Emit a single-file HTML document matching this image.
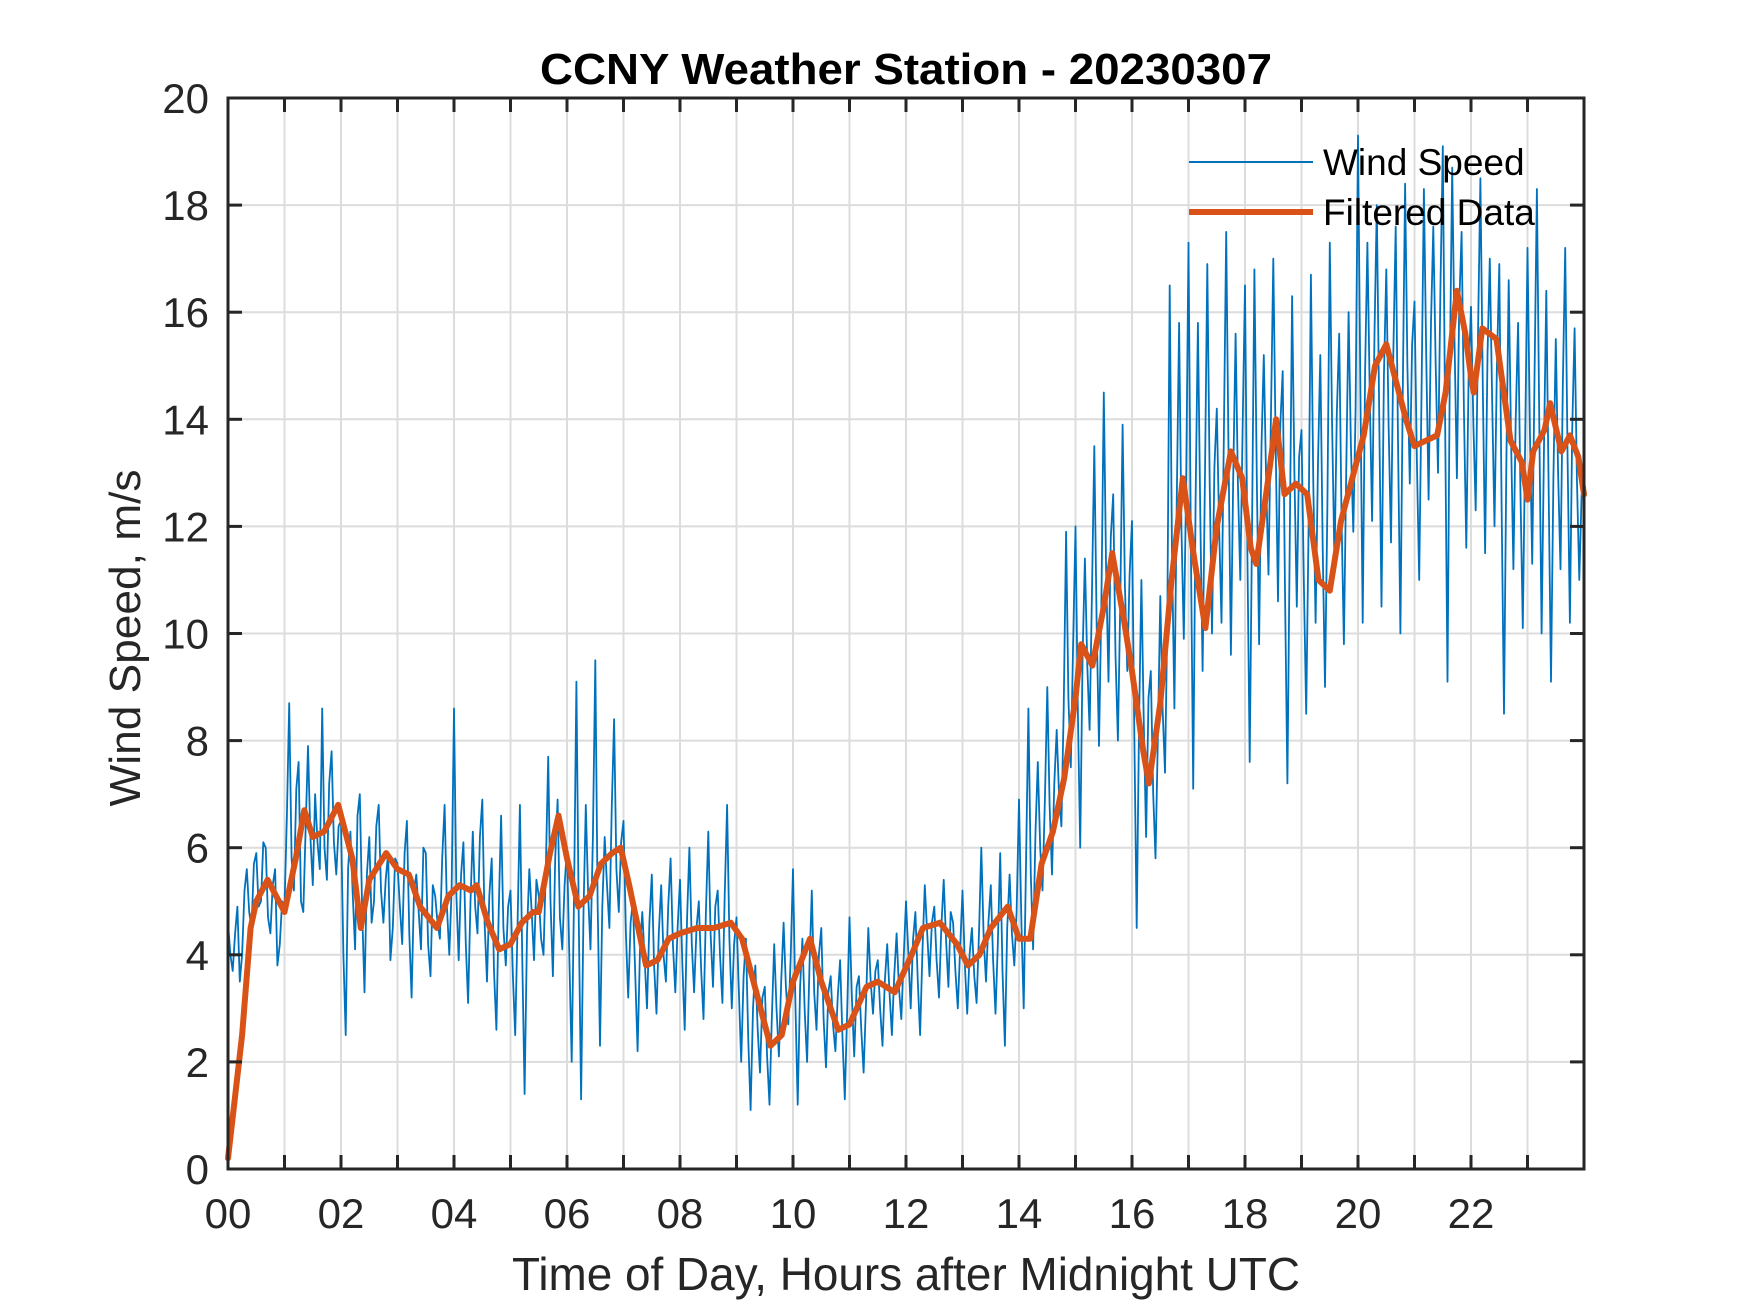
<!DOCTYPE html>
<html><head><meta charset="utf-8"><style>
html,body{margin:0;padding:0;background:#fff;}
svg{display:block;font-family:"Liberation Sans",Arial,sans-serif;}
</style></head><body>
<svg id="chart" width="1750" height="1313" viewBox="0 0 1750 1313" xmlns="http://www.w3.org/2000/svg">
<rect width="1750" height="1313" fill="#fff"/>
<g id="grid"></g>
<g id="series"></g>
<g id="axes"></g>
<text x="906" y="84" text-anchor="middle" font-size="44" font-weight="bold" textLength="732" lengthAdjust="spacingAndGlyphs">CCNY Weather Station - 20230307</text>
<text x="906" y="1290" text-anchor="middle" font-size="46" fill="#262626" textLength="788" lengthAdjust="spacingAndGlyphs">Time of Day, Hours after Midnight UTC</text>
<text transform="translate(140,638) rotate(-90)" text-anchor="middle" font-size="44" fill="#262626" textLength="337" lengthAdjust="spacingAndGlyphs">Wind Speed, m/s</text>
<g>
<line x1="1189" y1="162" x2="1313" y2="162" stroke="#0072BD" stroke-width="2"/>
<text x="1323" y="175" font-size="37" fill="#000">Wind Speed</text>
<line x1="1189" y1="212" x2="1313" y2="212" stroke="#D95319" stroke-width="6"/>
<text x="1323" y="225" font-size="37" fill="#000">Filtered Data</text>
</g>
</svg>
<script>
const xTickLabels = ["00","02","04","06","08","10","12","14","16","18","20","22"];
const yTicks = [0,2,4,6,8,10,12,14,16,18,20];
const windSpeed = [
4.6,4.0,3.7,4.4,4.9,3.5,4.0,5.2,5.6,4.8,4.5,5.7,5.9,4.9,5.0,6.1,6.0,4.7,4.4,5.3,5.6,3.8,4.2,5.0,
4.9,6.6,8.7,5.8,5.2,7.1,7.6,5.0,4.8,6.4,7.9,6.2,5.3,7.0,6.1,5.6,8.6,6.0,5.4,7.2,7.8,6.1,5.5,6.4,
6.5,4.0,2.5,5.6,6.3,5.1,4.1,6.6,7.0,4.8,3.3,5.5,6.2,4.6,5.0,6.4,6.8,5.2,4.6,5.4,5.9,3.9,4.5,5.8,
5.7,4.9,4.2,5.9,6.5,4.4,3.2,5.2,5.5,4.8,4.1,6.0,5.9,4.2,3.6,5.3,5.1,4.6,4.3,5.8,6.8,4.9,4.0,5.2,
8.6,5.1,3.9,5.5,6.1,4.2,3.1,5.0,6.3,4.9,4.4,6.2,6.9,4.6,3.5,5.1,5.8,3.7,2.6,4.8,6.6,4.5,3.8,4.9,
5.2,3.6,2.5,4.6,6.8,3.9,1.4,4.4,5.6,4.8,3.9,5.4,5.1,4.3,4.0,5.6,7.7,5.0,3.6,5.8,6.9,4.7,4.1,5.3,
6.0,3.9,2.0,5.2,9.1,4.6,1.3,4.8,6.8,5.1,4.1,6.2,9.5,5.0,2.3,4.9,6.2,5.3,4.5,6.7,8.4,5.6,4.8,6.1,
6.5,4.4,3.2,4.6,5.0,3.6,2.2,4.1,4.8,3.9,3.0,4.6,5.5,3.8,2.9,4.4,5.3,4.0,3.5,4.9,5.8,4.2,3.3,4.5,
5.4,3.8,2.6,4.7,6.0,4.2,3.3,4.5,5.0,3.7,2.8,4.8,6.3,4.4,3.4,4.9,5.2,4.0,3.1,5.1,6.8,4.3,3.0,4.2,
4.7,3.3,2.0,3.6,4.3,2.4,1.1,3.0,3.8,2.6,1.8,3.2,3.4,2.1,1.2,2.8,4.2,3.0,2.1,3.5,4.6,3.4,2.7,3.9,
5.6,3.1,1.2,3.4,4.3,2.9,2.0,3.8,5.2,3.3,2.6,4.0,4.5,2.8,1.9,3.3,3.6,2.7,2.2,3.2,3.9,2.5,1.3,2.9,
4.7,3.2,2.1,3.4,3.6,2.6,1.8,3.1,4.5,3.5,2.9,3.7,3.9,3.0,2.3,3.5,4.2,3.3,2.5,3.6,4.4,3.4,2.8,3.9,
5.0,4.0,3.0,4.3,4.8,3.5,2.5,4.1,5.3,4.4,3.6,4.6,4.9,3.9,3.2,4.5,5.4,4.3,3.4,4.8,4.6,3.7,3.0,4.1,
5.2,3.8,2.9,4.0,4.5,3.6,3.1,4.4,6.0,4.3,3.5,4.6,5.3,3.9,2.9,4.2,5.9,3.7,2.3,4.5,5.5,4.4,3.8,4.8,
6.9,4.6,3.0,5.8,8.6,5.5,4.1,6.3,7.6,6.0,5.2,6.9,9.0,6.8,5.5,7.2,8.2,7.0,6.4,8.6,11.9,8.8,7.5,9.8,
12.0,8.5,6.0,9.6,11.4,9.4,8.2,10.8,13.5,10.1,7.9,10.6,14.5,11.2,9.1,11.8,12.6,9.6,8.0,10.5,13.9,10.9,9.3,11.1,
12.1,8.0,4.5,8.4,11.0,8.3,6.2,8.8,9.3,7.0,5.8,8.1,10.7,8.6,7.4,10.2,16.5,11.5,8.6,12.4,15.8,12.0,9.9,12.7,
17.3,11.6,7.1,12.5,15.8,12.2,9.3,13.0,16.9,12.8,10.0,13.1,14.2,12.0,10.2,13.6,17.5,13.4,9.6,12.9,15.6,12.8,11.0,13.8,
16.5,11.5,7.6,12.1,16.8,12.9,9.8,13.5,15.2,12.8,11.1,14.0,17.0,13.6,10.6,13.9,14.9,10.8,7.2,11.6,16.3,13.0,10.5,13.3,
13.8,10.9,8.5,12.0,16.7,12.8,10.2,13.2,15.2,11.6,9.0,12.4,17.3,13.9,11.3,14.1,15.6,12.2,9.8,13.0,16.0,13.5,11.9,14.2,
19.3,14.5,10.2,14.9,17.3,14.4,12.1,15.6,18.0,14.1,10.5,14.8,16.8,13.9,11.7,15.2,17.6,13.6,10.0,14.4,18.4,15.0,12.8,15.4,
16.2,13.2,11.0,14.6,18.3,15.1,12.5,15.8,17.6,15.0,13.0,16.4,19.1,14.0,9.1,14.9,18.7,15.5,12.9,16.1,17.5,14.2,11.6,14.8,
16.1,13.9,12.3,15.7,18.5,14.6,11.5,15.2,17.0,14.3,12.0,15.0,16.9,12.4,8.5,13.1,16.6,13.7,11.2,14.0,15.8,12.7,10.1,13.5,
17.2,13.8,11.3,14.9,18.3,13.9,10.0,13.5,16.4,12.6,9.1,12.9,15.5,13.0,11.2,14.6,17.2,13.4,10.2,13.8,15.7,12.9,11.0,12.6
];
const filteredTimes = [0,0.25,0.4,0.5,0.7,0.9,1.0,1.2,1.35,1.5,1.7,1.95,2.2,2.35,2.5,2.8,3.0,3.2,3.4,3.7,3.9,4.1,4.3,4.4,4.6,4.8,5.0,5.2,5.4,5.5,5.7,5.85,6.0,6.2,6.4,6.6,6.8,6.95,7.1,7.4,7.6,7.8,8.0,8.3,8.6,8.9,9.1,9.3,9.6,9.8,10.0,10.3,10.5,10.8,11.0,11.3,11.5,11.8,12.1,12.3,12.6,12.9,13.1,13.3,13.5,13.8,14.0,14.2,14.4,14.6,14.8,15.0,15.1,15.3,15.5,15.65,15.85,16.0,16.2,16.3,16.5,16.7,16.9,17.1,17.3,17.5,17.75,17.95,18.1,18.2,18.4,18.55,18.7,18.9,19.1,19.3,19.5,19.7,19.9,20.1,20.3,20.5,20.65,20.85,21.0,21.2,21.4,21.55,21.75,21.9,22.0,22.05,22.2,22.45,22.7,22.9,23.0,23.1,23.3,23.4,23.6,23.75,23.9,24];
const filteredValues = [0.2,2.5,4.5,5.0,5.4,5.0,4.8,5.8,6.7,6.2,6.3,6.8,5.8,4.5,5.4,5.9,5.6,5.5,4.9,4.5,5.1,5.3,5.2,5.3,4.6,4.1,4.2,4.6,4.8,4.8,5.9,6.6,5.8,4.9,5.1,5.7,5.9,6.0,5.3,3.8,3.9,4.3,4.4,4.5,4.5,4.6,4.3,3.5,2.3,2.5,3.5,4.3,3.5,2.6,2.7,3.4,3.5,3.3,4.0,4.5,4.6,4.2,3.8,4.0,4.5,4.9,4.3,4.3,5.7,6.3,7.3,8.8,9.8,9.4,10.5,11.5,10.3,9.3,7.8,7.2,8.7,11.0,12.9,11.4,10.1,12.0,13.4,12.9,11.6,11.3,12.8,14.0,12.6,12.8,12.6,11.0,10.8,12.1,12.9,13.7,15.0,15.4,14.8,14.0,13.5,13.6,13.7,14.5,16.4,15.6,14.8,14.5,15.7,15.5,13.6,13.2,12.5,13.4,13.8,14.3,13.4,13.7,13.3,12.6];

const L=228,R=1584,T=98,B=1169;
const xScale=h=>L+(R-L)*h/24;
const yScale=v=>B-(B-T)*v/20;
const NS="http://www.w3.org/2000/svg";
function mk(tag,attrs,parent){const e=document.createElementNS(NS,tag);for(const k in attrs)e.setAttribute(k,attrs[k]);parent.appendChild(e);return e;}
const grid=document.getElementById('grid'),axes=document.getElementById('axes'),series=document.getElementById('series');
for(let h=1;h<24;h++){
  const gl=mk('line',{x1:xScale(h),x2:xScale(h),y1:T,y2:B,stroke:'#dcdcdc','stroke-width':2},grid);
  
  
}
yTicks.forEach(v=>{
  if(v===0||v===20)return;
  const gl=mk('line',{x1:L,x2:R,y1:yScale(v),y2:yScale(v),stroke:'#dcdcdc','stroke-width':2},grid);
  
  
});
let d='';
windSpeed.forEach((v,i)=>{const t=i*24/windSpeed.length;d+=(i?'L':'M')+xScale(t).toFixed(1)+','+yScale(v).toFixed(1);});
const ws=mk('path',{d:d,fill:'none',stroke:'#0072BD','stroke-width':1.8,'stroke-linejoin':'round'},series);


let d2='';
filteredValues.forEach((v,i)=>{d2+=(i?'L':'M')+xScale(filteredTimes[i]).toFixed(1)+','+yScale(v).toFixed(1);});
const fl=mk('path',{d:d2,fill:'none',stroke:'#D95319','stroke-width':6,'stroke-linejoin':'round','stroke-linecap':'round'},series);


const box=mk('rect',{x:L,y:T,width:R-L,height:B-T,fill:'none',stroke:'#262626','stroke-width':3},axes);


for(let h=1;h<24;h++){
  const t1=mk('line',{x1:xScale(h),x2:xScale(h),y1:B,y2:B-14,stroke:'#262626','stroke-width':3},axes);
  
  
  const t2=mk('line',{x1:xScale(h),x2:xScale(h),y1:T,y2:T+14,stroke:'#262626','stroke-width':3},axes);
  
  
}
xTickLabels.forEach((lab,i)=>{
  const tx=mk('text',{x:xScale(i*2),y:1228,'text-anchor':'middle','font-size':42,fill:'#262626'},axes);
  tx.textContent=lab;
  
  
});
yTicks.forEach(v=>{
  const t1=mk('line',{x1:L,x2:L+14,y1:yScale(v),y2:yScale(v),stroke:'#262626','stroke-width':3},axes);
  
  
  const t2=mk('line',{x1:R,x2:R-14,y1:yScale(v),y2:yScale(v),stroke:'#262626','stroke-width':3},axes);
  
  
  const tx=mk('text',{x:209,y:yScale(v)+15,'text-anchor':'end','font-size':42,fill:'#262626'},axes);
  tx.textContent=String(v);
  
  
});
</script>
</body></html>
